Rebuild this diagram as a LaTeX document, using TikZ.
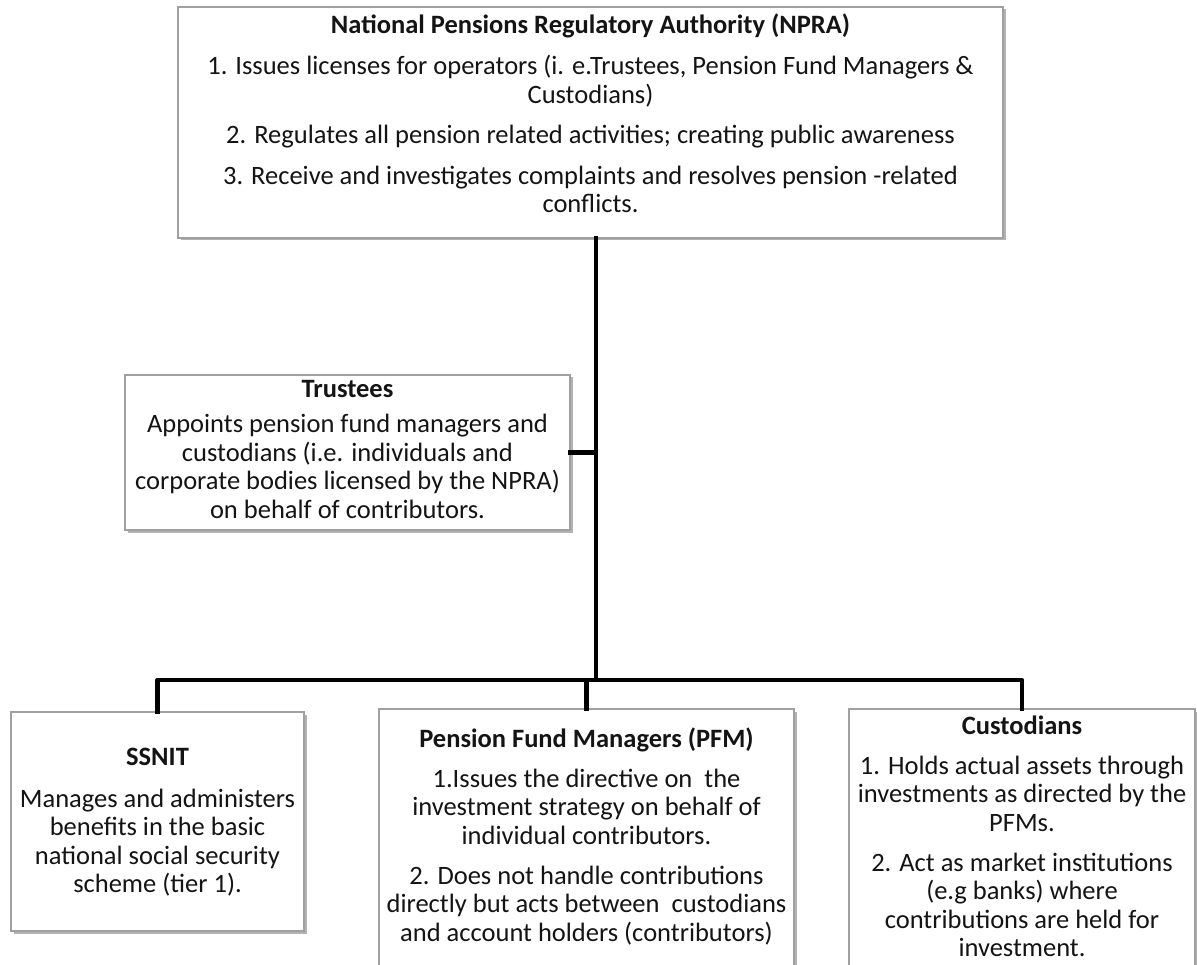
\documentclass[tikz,border=0pt]{standalone}
\usepackage{fontspec}
\setmainfont{Carlito}
\usetikzlibrary{shadows}
\definecolor{boxgray}{RGB}{160,160,160}
\definecolor{txtcol}{RGB}{20,20,20}
\tikzset{
  box/.style={draw=boxgray, line width=1.3pt, fill=white, anchor=north west,
    inner sep=0pt, outer sep=0pt,
    drop shadow={shadow xshift=2.5pt, shadow yshift=-2.5pt, opacity=0.3, fill=black}},
  txt/.style={anchor=base, align=center, inner sep=0pt, text=txtcol,
    font=\fontsize{26.5}{28.5}\selectfont},
  conn/.style={draw=black, line width=4.3pt, line join=round, line cap=rect}
}
\begin{document}
\begin{tikzpicture}[x=1pt,y=-1pt]
\useasboundingbox (0,0) rectangle (1197,965);
% boxes
\node[box, minimum width=825pt, minimum height=231pt] (npra) at (178,7) {};
\node[box, minimum width=445pt, minimum height=155pt] (trustees) at (125,375) {};
\node[box, minimum width=293pt, minimum height=219pt] (ssnit) at (11,712) {};
\node[box, minimum width=415pt, minimum height=270pt] (pfm) at (379,709) {};
\node[box, minimum width=346pt, minimum height=270pt] (cust) at (849,709) {};
% texts (base anchor = baseline of last line)
\node[txt] (npraT) at (590.5,213) {\textbf{National Pensions Regulatory Authority (NPRA)}\\[12.5pt]
1. Issues licenses for operators (i. e.Trustees, Pension Fund Managers \&\\
Custodians)\\[12pt]
2. Regulates all pension related activities; creating public awareness\\[12pt]
3. Receive and investigates complaints and resolves pension -related\\
conflicts.};
\node[txt] (trusteesT) at (347.5,518) {\textbf{Trustees}\\[7pt]
Appoints pension fund managers and\\
custodians (i.e. individuals and\\
corporate bodies licensed by the NPRA)\\
on behalf of contributors.};
\node[txt] (ssnitT) at (157.5,892.5) {\textbf{SSNIT}\\[13.5pt]
Manages and administers\\
benefits in the basic\\
national social security\\
scheme (tier 1).};
\node[txt] (pfmT) at (586.5,941) {\textbf{Pension Fund Managers (PFM)}\\[11.5pt]
1.Issues the directive on~ the\\
investment strategy on behalf of\\
individual contributors.\\[11.5pt]
2. Does not handle contributions\\
directly but acts between~ custodians\\
and account holders (contributors)};
\node[txt] (custT) at (1022,956.5) {\textbf{Custodians}\\[11.5pt]
1. Holds actual assets through\\
investments as directed by the\\
PFMs.\\[11.5pt]
2. Act as market institutions\\
(e.g banks) where\\
contributions are held for\\
investment.};
% connectors
\coordinate (hub) at (596,680);
\draw[conn] (npra.south -| hub) -- (hub);
\draw[conn] (trustees.east) -- (trustees.east -| hub);
\draw[conn] (ssnit.north) |- (hub);
\draw[conn] (cust.north) |- (hub);
\draw[conn] (pfm.north) -- (pfm.north |- hub);
\end{tikzpicture}
\end{document}
